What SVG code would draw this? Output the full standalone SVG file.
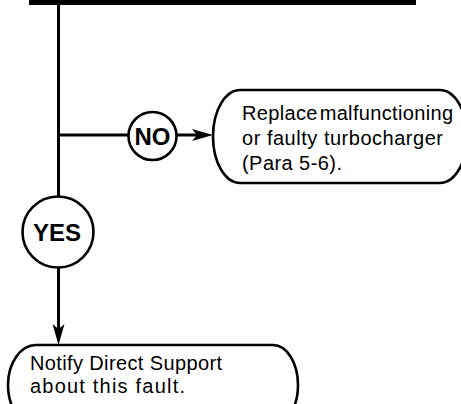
<svg xmlns="http://www.w3.org/2000/svg" width="461" height="404" viewBox="0 0 461 404">
  <style>
    .line { fill: none; stroke: #000; stroke-width: 3; }
    .shape { fill: #fff; stroke: #000; stroke-width: 2.6; }
    .label { font-family: "Liberation Sans", Arial, Helvetica, sans-serif; font-size: 20px; fill: #000; }
    .answer { font-family: "Liberation Sans", Arial, Helvetica, sans-serif; font-size: 24px; font-weight: bold; fill: #000; text-anchor: middle; }
  </style>
  <defs>
    <marker id="arrow" markerUnits="userSpaceOnUse" markerWidth="22" markerHeight="14" refX="13" refY="6.5" orient="auto">
      <path d="M0,0.5 L21,6.5 L0,12.5 L5,6.5 Z" fill="#000"/>
    </marker>
  </defs>

  <!-- bar across the top -->
  <rect x="29" y="0" width="387" height="5" fill="#000"/>

  <g id="connectors">
    <line class="line" x1="58.5" y1="0" x2="58.5" y2="196"/>
    <line class="line" x1="58.5" y1="135" x2="128" y2="135"/>
    <line class="line" x1="177" y1="135" x2="205" y2="135" marker-end="url(#arrow)"/>
    <line class="line" x1="58.5" y1="268" x2="58.5" y2="337" marker-end="url(#arrow)"/>
  </g>

  <g id="no">
    <circle class="shape" cx="152.5" cy="136" r="24"/>
    <text class="answer" x="152.5" y="144.5">NO</text>
  </g>

  <g id="yes">
    <circle class="shape" cx="58" cy="232" r="35.5"/>
    <text class="answer" x="57" y="240.5">YES</text>
  </g>

  <g id="replace">
    <path class="shape" d="M240,90 H440 A27,46.5 0 0 1 440,183 H240 A27,46.5 0 0 1 240,90 Z"/>
    <text class="label" x="242" y="120" word-spacing="-4" textLength="211" lengthAdjust="spacing">Replace malfunctioning</text>
    <text class="label" x="242" y="145" textLength="201" lengthAdjust="spacing">or faulty turbocharger</text>
    <text class="label" x="242" y="170" textLength="100" lengthAdjust="spacing">(Para 5-6).</text>
  </g>

  <g id="notify">
    <path class="shape" d="M36,345 H273 A25,40 0 0 1 273,425 H36 A28,40 0 0 1 36,345 Z"/>
    <text class="label" x="30" y="370" textLength="192" lengthAdjust="spacing">Notify Direct Support</text>
    <text class="label" x="30" y="393" textLength="155" lengthAdjust="spacing">about this fault.</text>
  </g>
</svg>
